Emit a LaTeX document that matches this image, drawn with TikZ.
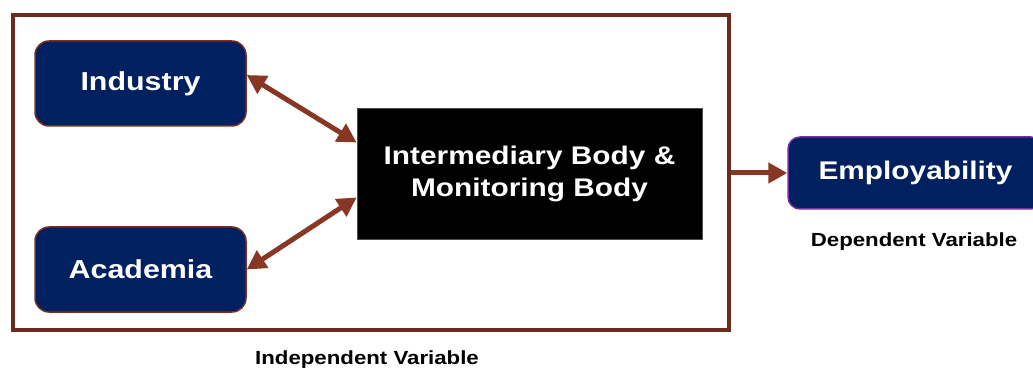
\documentclass[tikz,border=0pt]{standalone}
\usepackage{fontspec}
\newfontfamily\labfont[FakeStretch=1.17]{Liberation Sans}
\usetikzlibrary{arrows.meta}
\definecolor{navy}{HTML}{002060}
\definecolor{framebrown}{HTML}{6E2A1E}
\definecolor{arrowbrown}{HTML}{873723}
\definecolor{boxborder}{HTML}{7B2E22}
\definecolor{empborder}{HTML}{7030A0}
\begin{document}
\begin{tikzpicture}[x=1pt,y=-1pt,
  box/.style={draw=boxborder, line width=1.5pt, fill=navy, rounded corners=14pt,
    text=white, font=\labfont\bfseries\fontsize{26}{30}\selectfont,
    minimum width=211pt, minimum height=85pt, inner sep=0pt},
  midbox/.style={draw=black!70, line width=0.8pt, fill=black, text=white, align=center,
    font=\labfont\bfseries\fontsize{25.5}{32}\selectfont,
    minimum width=345pt, minimum height=131pt, inner sep=0pt},
  empbox/.style={draw=empborder, line width=1.5pt, fill=navy, rounded corners=12pt,
    text=white, font=\labfont\bfseries\fontsize{25.5}{30}\selectfont,
    minimum width=255pt, minimum height=72pt, inner sep=0pt},
  framebox/.style={draw=framebrown, line width=4pt, minimum width=716pt, minimum height=315pt, inner sep=0pt},
  caption/.style={font=\labfont\bfseries\fontsize{19}{22}\selectfont, text=black, inner sep=0pt},
  biarrow/.style={draw=arrowbrown, line width=5pt, {Triangle[length=19pt,width=20pt]}-{Triangle[length=19pt,width=20pt]}},
  onearrow/.style={draw=arrowbrown, line width=5pt, -{Triangle[length=19pt,width=20pt]}}
]
\useasboundingbox (0,0) rectangle (1033,371);
\node[framebox] (frame) at (371,172.5) {};
\node[box] (ind) at (140.5,83.5) {Industry};
\node[box] (aca) at (140.5,269.5) {Academia};
\node[midbox] (mid) at (529.5,173.5) {Intermediary Body \&\\Monitoring Body};
\node[empbox] (emp) at (915.5,173) {Employability};
\node[caption] (dep) at (914,241.5) {Dependent Variable};
\node[caption] (indep) at (367,360) {Independent Variable};
\draw[biarrow] ([yshift=8.5pt]ind.east) -- ([yshift=31pt]mid.west);
\draw[biarrow] (aca.east) -- ([yshift=-24pt]mid.west);
\draw[onearrow] (frame.east |- emp.west) -- (emp.west);
\end{tikzpicture}
\end{document}
